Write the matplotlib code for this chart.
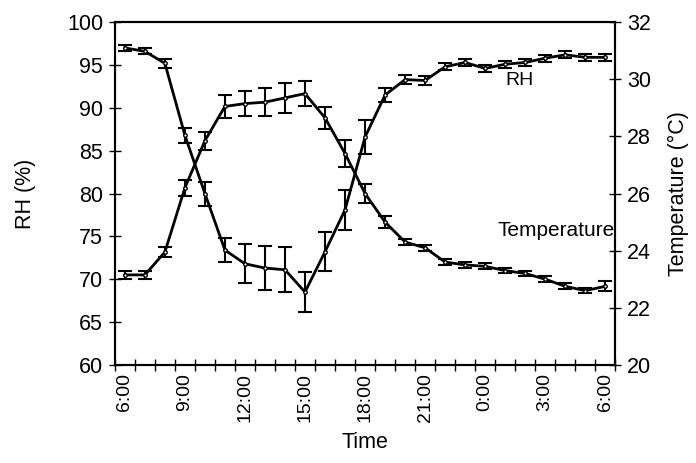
import numpy as np
import matplotlib
matplotlib.use('Agg')
import matplotlib.pyplot as plt
from matplotlib.ticker import MultipleLocator, FixedLocator

plt.rcParams['font.family'] = ['Liberation Sans', 'DejaVu Sans']

# hourly readings, 6:00 to 6:00 next day
times = ['6:00', '7:00', '8:00', '9:00', '10:00', '11:00', '12:00', '13:00', '14:00',
         '15:00', '16:00', '17:00', '18:00', '19:00', '20:00', '21:00', '22:00', '23:00',
         '0:00', '1:00', '2:00', '3:00', '4:00', '5:00', '6:00']
rh = [97.0, 96.6, 95.2, 86.8, 80.0, 73.4, 71.8, 71.3, 71.1, 68.5, 73.2, 78.1, 86.6,
      91.5, 93.3, 93.2, 94.8, 95.3, 94.6, 95.1, 95.3, 95.8, 96.2, 95.9, 95.9]
rh_err = [0.35, 0.35, 0.5, 0.9, 1.4, 1.4, 2.3, 2.6, 2.6, 2.3, 2.3, 2.3, 2.0,
          0.8, 0.5, 0.5, 0.4, 0.4, 0.4, 0.4, 0.4, 0.4, 0.4, 0.4, 0.4]
temp = [23.15, 23.15, 23.95, 26.2, 27.85, 29.05, 29.15, 29.2, 29.35, 29.5, 28.65, 27.4, 26.0,
        25.0, 24.3, 24.1, 23.6, 23.5, 23.45, 23.3, 23.2, 23.0, 22.75, 22.6, 22.75]
temp_err = [0.14, 0.14, 0.17, 0.28, 0.32, 0.4, 0.44, 0.49, 0.52, 0.44, 0.39, 0.46, 0.32,
            0.21, 0.1, 0.1, 0.1, 0.1, 0.1, 0.1, 0.1, 0.1, 0.1, 0.1, 0.17]

x = np.arange(len(times))

fig, ax = plt.subplots(figsize=(6.96, 4.63), dpi=100)
fig.subplots_adjust(left=0.165, right=0.884, top=0.952, bottom=0.212)
ax2 = ax.twinx()

ax.errorbar(x, rh, yerr=rh_err, color='k', lw=2, capsize=5, capthick=1.5, elinewidth=1.5,
            marker='o', ms=2.5, mfc='white', mec='k')
ax2.errorbar(x, temp, yerr=temp_err, color='k', lw=2, capsize=5, capthick=1.5, elinewidth=1.5,
             marker='o', ms=2.5, mfc='white', mec='k')

ax.set_xlim(-0.5, len(times) - 0.5)
ax.set_ylim(60, 100)
ax2.set_ylim(20, 32)
ax.yaxis.set_major_locator(MultipleLocator(5))
ax2.yaxis.set_major_locator(MultipleLocator(2))

ax.xaxis.set_major_locator(FixedLocator(x[::3]))
ax.set_xticklabels(times[::3], rotation=90)
ax.xaxis.set_minor_locator(FixedLocator(np.arange(len(times) + 1) - 0.5))
ax.tick_params(axis='x', which='major', length=0, labelsize=14, pad=6)
ax.tick_params(axis='x', which='minor', direction='inout', length=8, width=1)
ax.tick_params(axis='y', direction='inout', length=9, width=1, labelsize=15.5, pad=4)
ax2.tick_params(axis='y', direction='inout', length=9, width=1, labelsize=15.5, pad=4)

for a in (ax, ax2):
    for s in a.spines.values():
        s.set_linewidth(1.5)

ax.set_xlabel('Time', fontsize=15.5, labelpad=7)
ax.set_ylabel('RH (%)', fontsize=15.5, labelpad=22)
ax2.set_ylabel('Temperature (°C)', fontsize=15.5, labelpad=12)

ax.text(19.7, 93.2, 'RH', fontsize=14, ha='center', va='center')
ax.text(24.45, 75.7, 'Temperature', fontsize=15, ha='right', va='center')

fig.savefig('out.png', dpi=100)
